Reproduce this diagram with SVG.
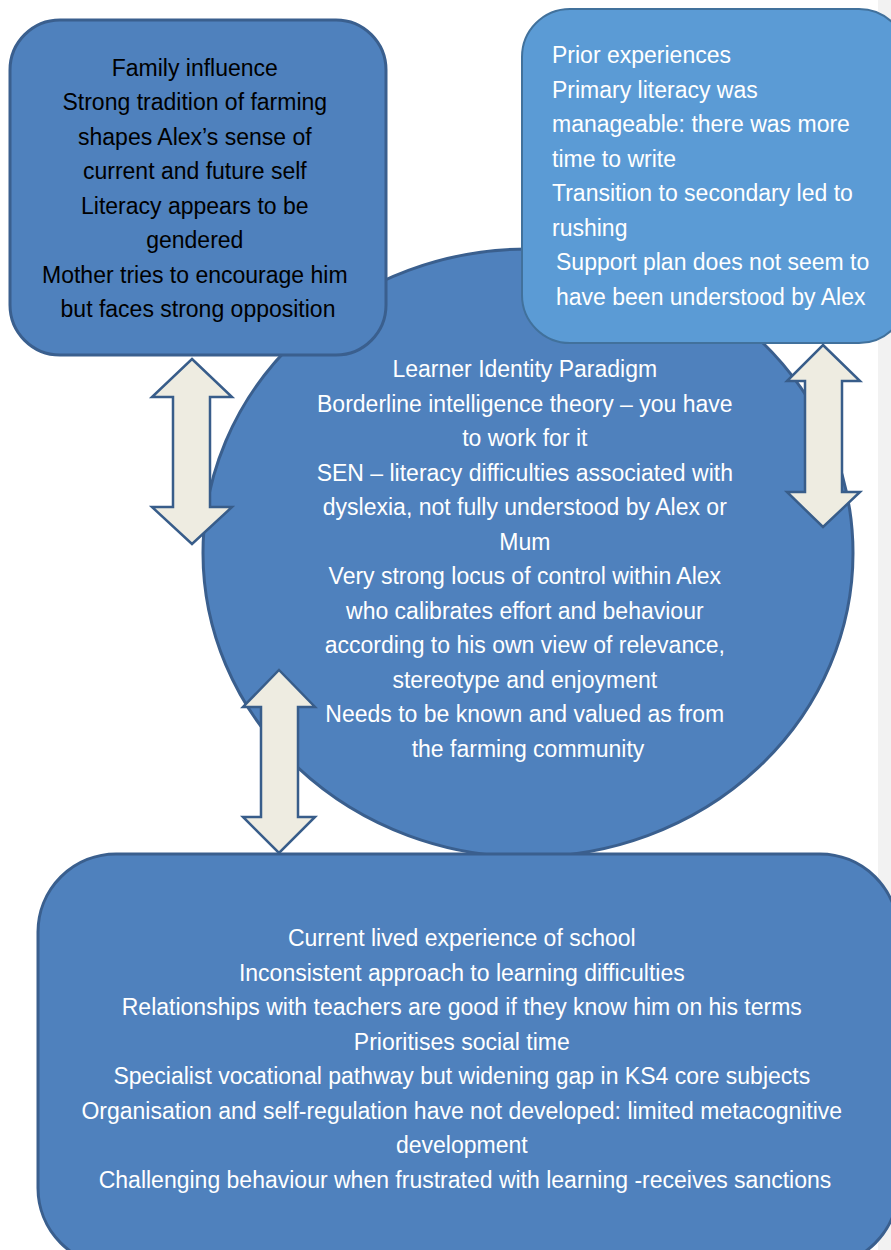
<svg xmlns="http://www.w3.org/2000/svg" width="891" height="1250" viewBox="0 0 891 1250">
  <style>
    .txt { font-family: "Liberation Sans", Arial, sans-serif; font-size: 23px; }
    .dark { fill: #000000; }
    .light { fill: #ffffff; }
    .mid { text-anchor: middle; }
    .box { fill: #4f81bd; stroke: #3a5f8e; stroke-width: 3; }
    .boxlight { fill: #5b9bd5; stroke: #41719c; stroke-width: 2; }
    .arrow { fill: #eeece1; stroke: #385d8a; stroke-width: 2.5; stroke-linejoin: miter; }
  </style>

  <!-- page background and right margin strip -->
  <rect x="0" y="0" width="891" height="1250" fill="#ffffff"/>
  <rect x="878" y="0" width="13" height="1250" fill="#f2f2f2"/>

  <!-- central ellipse -->
  <g id="learner-identity">
    <ellipse class="box" cx="528" cy="553" rx="325" ry="304"/>
    <text class="txt light mid">
      <tspan x="528" y="377">Learner Identity Paradigm</tspan>
      <tspan x="528" y="411.5">Borderline intelligence theory – you have</tspan>
      <tspan x="528" y="446">to work for it</tspan>
      <tspan x="528" y="480.5">SEN – literacy difficulties associated with</tspan>
      <tspan x="528" y="515">dyslexia, not fully understood by Alex or</tspan>
      <tspan x="528" y="549.5">Mum</tspan>
      <tspan x="528" y="584">Very strong locus of control within Alex</tspan>
      <tspan x="528" y="618.5">who calibrates effort and behaviour</tspan>
      <tspan x="528" y="653">according to his own view of relevance,</tspan>
      <tspan x="528" y="687.5">stereotype and enjoyment</tspan>
      <tspan x="528" y="722">Needs to be known and valued as from</tspan>
      <tspan x="528" y="756.5">the farming community</tspan>
    </text>
  </g>

  <!-- family influence box -->
  <g id="family-influence">
    <rect class="box" x="10" y="20" width="376" height="335" rx="50" ry="50"/>
    <text class="txt dark mid">
      <tspan x="198" y="75.5">Family influence</tspan>
      <tspan x="198" y="110">Strong tradition of farming</tspan>
      <tspan x="198" y="144.5">shapes Alex’s sense of</tspan>
      <tspan x="198" y="179">current and future self</tspan>
      <tspan x="198" y="213.5">Literacy appears to be</tspan>
      <tspan x="198" y="248">gendered</tspan>
      <tspan x="198" y="282.5">Mother tries to encourage him</tspan>
      <tspan x="198" y="317">but faces strong opposition</tspan>
    </text>
  </g>

  <!-- prior experiences box -->
  <g id="prior-experiences">
    <rect class="boxlight" x="522" y="9" width="385" height="334" rx="48" ry="48"/>
    <text class="txt light">
      <tspan x="552" y="63">Prior experiences</tspan>
      <tspan x="552" y="97.5">Primary literacy was</tspan>
      <tspan x="552" y="132">manageable: there was more</tspan>
      <tspan x="552" y="166.5">time to write</tspan>
      <tspan x="552" y="201">Transition to secondary led to</tspan>
      <tspan x="552" y="235.5">rushing</tspan>
      <tspan x="556" y="270">Support plan does not seem to</tspan>
      <tspan x="556" y="304.5">have been understood by Alex</tspan>
    </text>
  </g>

  <!-- school experience box -->
  <g id="school-experience">
    <rect class="box" x="38" y="854" width="860" height="412" rx="78" ry="78"/>
    <text class="txt light mid">
      <tspan x="465" y="946">Current lived experience of school</tspan>
      <tspan x="465" y="980.5">Inconsistent approach to learning difficulties</tspan>
      <tspan x="465" y="1015">Relationships with teachers are good if they know him on his terms</tspan>
      <tspan x="465" y="1049.5">Prioritises social time</tspan>
      <tspan x="465" y="1084">Specialist vocational pathway but widening gap in KS4 core subjects</tspan>
      <tspan x="465" y="1118.5">Organisation and self-regulation have not developed: limited metacognitive</tspan>
      <tspan x="465" y="1153">development</tspan>
      <tspan x="465" y="1187.5">Challenging behaviour when frustrated with learning -receives sanctions</tspan>
    </text>
  </g>

  <!-- two-way connectors -->
  <g id="connectors">
    <polygon class="arrow" points="192,359 232,397 210,397 210,507 232,507 192,544 152,507 173,507 173,397 152,397"/>
    <polygon class="arrow" points="823,345 860,381 842,381 842,492 860,492 823,527 787,492 805,492 805,381 787,381"/>
    <polygon class="arrow" points="279,670 315,707 298,707 298,817 315,817 279,853 243,817 261,817 261,707 243,707"/>
  </g>
</svg>
